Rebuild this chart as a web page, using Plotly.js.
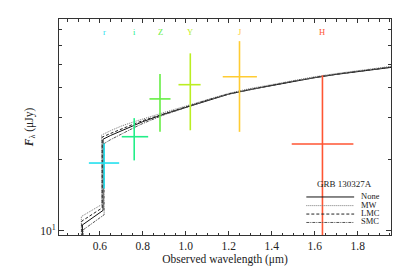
<!DOCTYPE html>
<html><head><meta charset="utf-8">
<script src="https://cdn.plot.ly/plotly-3.0.1.min.js"></script>
<style>html,body{margin:0;padding:0;background:#fff}#chart{width:409px;height:273px}</style>
</head><body><div id="chart"></div>
<script>
// Photometric bands
const bands = ['r','i','Z','Y','J','H'];
const bandColors = ['#22e0ee','#22ee88','#66ee44','#bbee22','#ffcc33','#ff5533'];
const bandLam = [0.620, 0.760, 0.880, 1.021, 1.250, 1.636];
const bandLamLo = [0.549, 0.702, 0.831, 0.966, 1.172, 1.493];
const bandLamHi = [0.690, 0.825, 0.929, 1.069, 1.331, 1.780];
const bandFlux = [19.3, 24.9, 35.9, 41.2, 44.5, 23.2];
const bandFluxLo = [15.1, 19.8, 26.1, 26.5, 26.1, 5.0];
const bandFluxHi = [23.3, 29.8, 45.7, 55.8, 62.8, 45.1];

// Model curves
const noneLam = [0.519,0.519,0.615,0.615,0.65,0.7,0.76,0.8,0.9,1.0,1.1,1.2,1.3,1.4,1.5,1.6,1.7,1.8,1.955];
const noneFlux = [9.0,10.6,12.2,24.3,25.2,26.4,27.8,28.8,31.0,33.1,35.4,37.6,39.3,40.9,42.6,44.1,45.5,46.8,48.7];
const mwLam = [0.514,0.514,0.608,0.608,0.65,0.7,0.76,0.8,0.9,1.0,1.1,1.2,1.3,1.4,1.5,1.6,1.7,1.8,1.955];
const mwFlux = [9.0,11.5,12.9,25.3,26.4,27.6,28.8,29.6,31.5,33.5,35.7,37.9,39.7,41.3,43.0,44.5,45.9,47.3,49.2];
const lmcLam = [0.516,0.516,0.611,0.611,0.65,0.7,0.76,0.8,0.9,1.0,1.1,1.2,1.3,1.4,1.5,1.6,1.7,1.8,1.955];
const lmcFlux = [9.0,11.0,12.5,24.8,25.7,26.9,28.2,29.1,31.2,33.2,35.5,37.7,39.4,41.0,42.7,44.2,45.6,46.9,48.8];
const smcLam = [0.522,0.522,0.620,0.620,0.65,0.7,0.76,0.8,0.9,1.0,1.1,1.2,1.3,1.4,1.5,1.6,1.7,1.8,1.955];
const smcFlux = [9.0,10.1,11.7,23.3,24.2,25.6,27.2,28.3,30.8,33.0,35.4,37.6,39.3,40.9,42.6,44.1,45.6,46.9,48.9];

const modelNames = ['None','MW','LMC','SMC'];
const modelDash = ['solid','1px,1px','3px,2px','3px,1px,1px,1px'];
const modelColors = ['#111','#777','#222','#555'];
const modelLams = [noneLam, mwLam, lmcLam, smcLam];
const modelFluxes = [noneFlux, mwFlux, lmcFlux, smcFlux];

const yTickVals = [10];
const yTickText = ['10<sup>1</sup>'];
const yMinorVals = [20,30,40,50,60,70];

const FONT = 'Liberation Serif, Times New Roman, serif';
const traces = [];
modelNames.forEach((n,k)=>{
  traces.push({x:modelLams[k], y:modelFluxes[k], mode:'lines', name:n, showlegend:false,
    line:{color:modelColors[k], width:1, dash:modelDash[k]}, hoverinfo:'skip'});
});
bands.forEach((b,k)=>{
  traces.push({x:[bandLam[k]], y:[bandFlux[k]], mode:'markers', showlegend:false,
    marker:{size:1, opacity:0, color:bandColors[k]},
    error_x:{type:'data', symmetric:false, array:[bandLamHi[k]-bandLam[k]], arrayminus:[bandLam[k]-bandLamLo[k]], color:bandColors[k], thickness:1.6, width:0},
    error_y:{type:'data', symmetric:false, array:[bandFluxHi[k]-bandFlux[k]], arrayminus:[bandFlux[k]-bandFluxLo[k]], color:bandColors[k], thickness:1.6, width:0}
  });
});

const annotations = bands.map((b,k)=>({x:bandLam[k], xref:'x', y:0.94, yref:'paper', text:b, showarrow:false,
  font:{family:FONT, size:8.5, color:bandColors[k]}, xanchor:'center', yanchor:'middle'}));
annotations.push({x:0.859, y:0.235, xref:'paper', yref:'paper', text:'GRB 130327A', showarrow:false,
  font:{family:FONT, size:9, color:'#222'}, xanchor:'center', yanchor:'middle'});
const legY = [0.176, 0.136, 0.097, 0.058];
const shapes = [];
modelNames.forEach((n,k)=>{
  shapes.push({type:'line', xref:'paper', yref:'paper', x0:0.745, x1:0.889, y0:legY[k], y1:legY[k],
    line:{color:modelColors[k], width:1, dash:modelDash[k]}});
  annotations.push({x:0.907, y:legY[k]+0.005, xref:'paper', yref:'paper', text:n, showarrow:false,
    font:{family:FONT, size:8.5, color:'#222'}, xanchor:'left', yanchor:'middle', borderpad:0, height:8});
});

const layout = {
  width:409, height:273,
  margin:{l:59, r:18, t:19, b:38},
  paper_bgcolor:'#fff', plot_bgcolor:'#fff',
  showlegend:false,
  font:{family:FONT, size:11, color:'#222'},
  xaxis:{range:[0.41,1.955], tick0:0, dtick:0.2, tickformat:'.1f', ticks:'inside', ticklen:4, tickcolor:'#333',
    showline:true, linecolor:'#333', linewidth:1, mirror:'ticks', showgrid:false, zeroline:false,
    minor:{dtick:0.05, ticks:'inside', ticklen:2.5, tickcolor:'#333'},
    tickfont:{family:FONT, size:11.5, color:'#222'},
    title:{text:'Observed wavelength (μm)', font:{family:FONT, size:11.5, color:'#222'}, standoff:4}},
  yaxis:{type:'log', range:[0.983,1.891], tickmode:'array', tickvals:yTickVals, ticktext:yTickText,
    ticks:'inside', ticklen:5, tickcolor:'#333', showline:true, linecolor:'#333', linewidth:1, mirror:'ticks',
    showgrid:false, zeroline:false,
    minor:{tickmode:'array', tickvals:yMinorVals, ticks:'inside', ticklen:3, tickcolor:'#333'},
    tickfont:{family:FONT, size:11.5, color:'#222'},
    title:{text:'<b><i>F</i></b><sub>λ</sub> (μJy)', font:{family:FONT, size:11.5, color:'#222'}, standoff:4}},
  annotations:annotations,
  shapes:shapes
};
Plotly.newPlot('chart', traces, layout, {staticPlot:true, displayModeBar:false});
</script></body></html>
